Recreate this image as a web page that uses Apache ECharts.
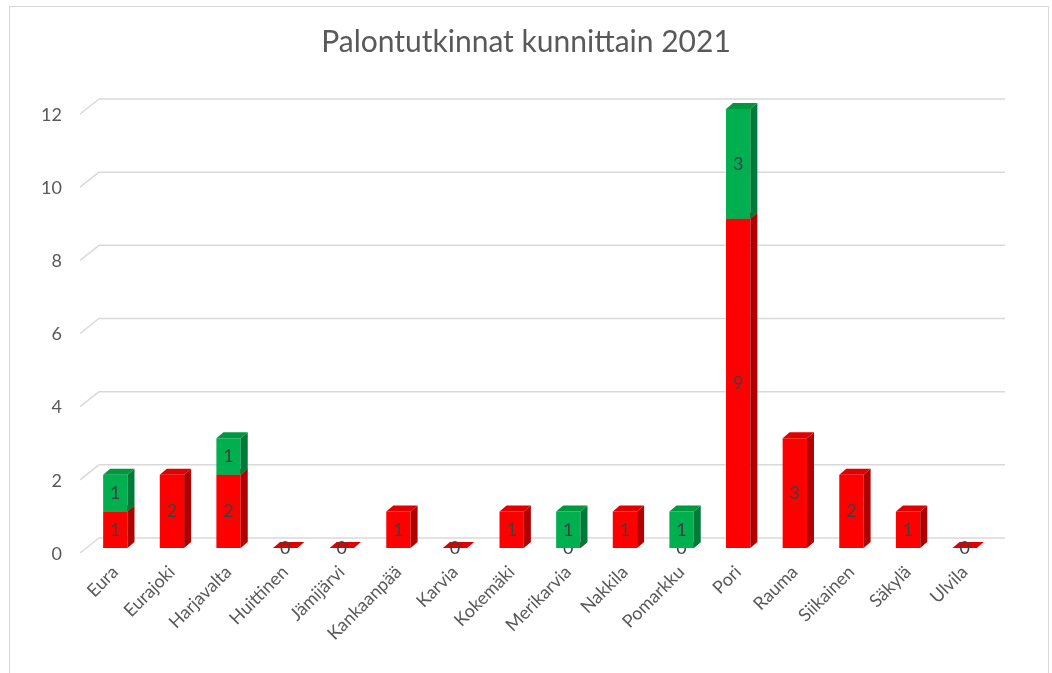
<!DOCTYPE html>
<html>
<head>
<meta charset="utf-8">
<title>Palontutkinnat kunnittain 2021</title>
<script src="https://cdn.jsdelivr.net/npm/echarts@6/dist/echarts.min.js"></script>
<style>
  html, body { margin: 0; padding: 0; background: #fff; overflow: hidden; }
  #frame { position: absolute; left: 9px; top: 6px; width: 1038px; height: 720px; border: 1px solid #d9d9d9; }
  #main { position: absolute; left: 0; top: 0; width: 1052px; height: 673px; }
</style>
</head>
<body>
<div id="frame"></div>
<div id="main"></div>
<script>
  // data
  const kunnat = ['Eura', 'Eurajoki', 'Harjavalta', 'Huittinen', 'Jämijärvi', 'Kankaanpää', 'Karvia',
    'Kokemäki', 'Merikarvia', 'Nakkila', 'Pomarkku', 'Pori', 'Rauma', 'Siikainen', 'Säkylä', 'Ulvila']
  const punaiset = [1, 2, 2, 0, 0, 1, 0, 1, 0, 1, 0, 9, 3, 2, 1, 0]
  const vihreat = [1, null, 1, null, null, null, null, null, 1, null, 1, 3, null, null, null, null]
  const yTicks = [0, 2, 4, 6, 8, 10, 12]

  const fontName = 'Lato'
  const depthX = 7, depthY = 6   // 3d offset of bars

  const chart = echarts.init(document.getElementById('main'))

  // one 3d looking box, drawn through the axes
  function boxRenderer(front, side, top) {
    return function (params, api) {
      const i = api.value(0), base = api.value(1), val = api.value(2)
      const p0 = api.coord([i, base])
      const p1 = api.coord([i, base + val])
      const bw = api.size([1, 0])[0] * 0.43
      const l = p0[0] - bw / 2, r = l + bw
      const children = []
      if (val > 0) {
        children.push({ type: 'rect', shape: { x: l, y: p1[1], width: bw, height: p0[1] - p1[1] }, style: { fill: front } })
        children.push({ type: 'polygon', shape: { points: [[r, p1[1]], [r + depthX, p1[1] - depthY], [r + depthX, p0[1] - depthY], [r, p0[1]]] }, style: { fill: side } })
      }
      children.push({ type: 'polygon', shape: { points: [[l, p1[1]], [l + depthX, p1[1] - depthY], [r + depthX, p1[1] - depthY], [r, p1[1]]] }, style: { fill: top } })
      children.push({
        type: 'text', z2: 10,
        style: { text: String(val), x: p0[0], y: (p0[1] + p1[1]) / 2, align: 'center', verticalAlign: 'middle',
          fill: '#404040', font: '18px ' + fontName }
      })
      return { type: 'group', children: children }
    }
  }

  // back wall gridlines with the little slanted floor edge
  function gridRenderer(params, api) {
    const cs = params.coordSys
    const y = api.coord([0, api.value(1)])[1]
    const style = { stroke: '#d9d9d9', lineWidth: 1.5 }
    return {
      type: 'group',
      children: [
        { type: 'line', shape: { x1: cs.x - 7, y1: y + 5, x2: cs.x + 12, y2: y - 10 }, style: style },
        { type: 'line', shape: { x1: cs.x + 12, y1: y - 10, x2: cs.x + cs.width + 12, y2: y - 10 }, style: style }
      ]
    }
  }

  const redData = punaiset.map((v, i) => [i, 0, v])
  const greenData = []
  vihreat.forEach((v, i) => {
    if (v !== null) greenData.push([i, punaiset[i], v])
  })

  const option = {
    animation: false,
    textStyle: { fontFamily: fontName },
    title: {
      text: 'Palontutkinnat kunnittain 2021',
      left: 'center',
      top: 22,
      textStyle: { fontFamily: fontName, fontSize: 30, fontWeight: 'normal', color: '#595959' }
    },
    grid: { left: 87, right: 59, top: 109, bottom: 125 },
    xAxis: {
      type: 'category',
      data: kunnat,
      axisLine: { show: false },
      axisTick: { show: false },
      axisLabel: { rotate: 45, margin: 21, fontSize: 18, color: '#595959', fontFamily: fontName, interval: 0 }
    },
    yAxis: {
      type: 'value',
      min: 0,
      max: 12,
      interval: 2,
      splitLine: { show: false },
      axisLine: { show: false },
      axisTick: { show: false },
      axisLabel: { margin: 25, fontSize: 18, color: '#595959', fontFamily: fontName, verticalAlign: 'top', lineHeight: 12 }
    },
    series: [
      {
        type: 'custom',
        name: 'grid',
        silent: true,
        z: 1,
        renderItem: gridRenderer,
        data: yTicks.map(t => [0, t])
      },
      {
        type: 'custom',
        name: 'punainen',
        z: 2,
        renderItem: boxRenderer('#ff0000', '#b00000', '#e00000'),
        encode: { x: 0, y: [1, 2] },
        data: redData
      },
      {
        type: 'custom',
        name: 'vihreä',
        z: 3,
        renderItem: boxRenderer('#00b050', '#007a38', '#00983f'),
        encode: { x: 0, y: [1, 2] },
        data: greenData
      }
    ]
  }

  chart.setOption(option)
</script>
</body>
</html>
